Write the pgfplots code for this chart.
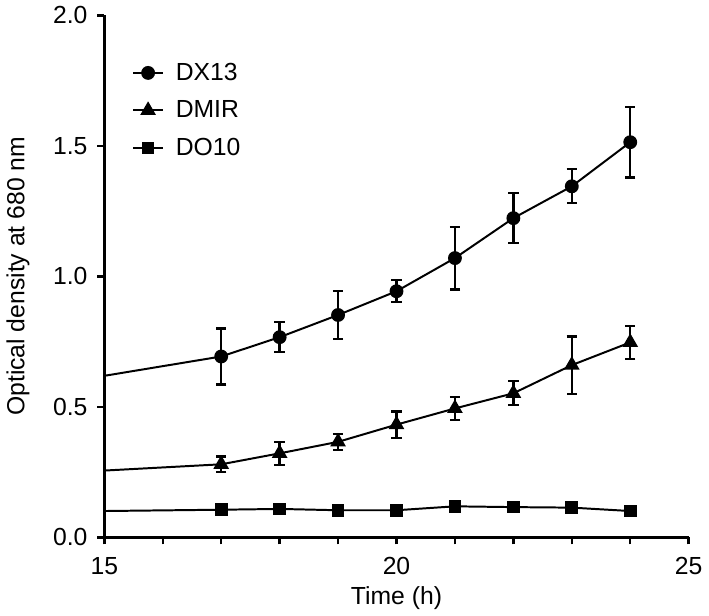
\documentclass[border=0pt]{standalone}
\usepackage{pgfplots}
\pgfplotsset{compat=1.18}
\usepackage{pgfplotstable}
\usepackage{fontspec}
\setmainfont{Liberation Sans}

\pgfplotstableread{
x y e
17 0.693 0.107
18 0.767 0.058
19 0.852 0.092
20 0.943 0.042
21 1.070 0.120
22 1.223 0.095
23 1.345 0.065
24 1.514 0.135
}\dxA
\pgfplotstableread{
x y e
17 0.280 0.030
18 0.322 0.044
19 0.366 0.030
20 0.432 0.050
21 0.494 0.045
22 0.552 0.046
23 0.660 0.110
24 0.747 0.063
}\dmir
\pgfplotstableread{
x y
17 0.106
18 0.109
19 0.104
20 0.104
21 0.119
22 0.116
23 0.114
24 0.101
}\doten

\begin{document}
\begin{tikzpicture}
\begin{axis}[
  scale only axis, width=295.5pt, height=264pt,
  xmin=15, xmax=25, ymin=0, ymax=2,
  axis x line*=bottom, axis y line*=left,
  axis line style={line width=1.3pt},
  xtick={15,...,25}, xticklabels={15,,,,,20,,,,,25},
  ytick={0,0.5,...,2},
  yticklabel style={/pgf/number format/.cd, fixed, fixed zerofill, precision=1},
  tick align=outside, major tick length=3.5pt,
  tick style={line width=1.2pt, black},
  /pgf/number format/assume math mode=true,
  font=\fontsize{12.5}{14.5}\selectfont,
  xticklabel shift=3pt, yticklabel shift=1.5pt,
  xlabel={Time (h)}, ylabel={Optical density at 680 nm},
  ylabel shift=5pt, xlabel shift=-1pt,
  legend style={draw=none, fill=none, at={(0.037,0.925)}, anchor=north west,
    font=\fontsize{12.5}{14.5}\selectfont, row sep=4.8pt},
  legend cell align=left,
  legend image code/.code={%
    \draw[mark repeat=2,mark phase=2] plot coordinates {(0pt,0pt) (7.5pt,0pt) (15pt,0pt)};
    \path (19pt,0pt);},
  every axis plot/.append style={line width=1pt, black},
]
\addplot[black, line width=1pt, forget plot] coordinates {(15,0.619) (17,0.693)};
\addplot[black, line width=1pt, forget plot] coordinates {(15,0.256) (17,0.280)};
\addplot[black, line width=1pt, forget plot] coordinates {(15,0.101) (17,0.106)};

\addplot[black, line width=1pt, mark=*, mark size=3pt, mark options={solid, fill=black},
  error bars/.cd, y dir=both, y explicit,
  error bar style={line width=1.15pt, black},
  error mark options={rotate=90, mark size=2.6pt, line width=1.15pt, black}]
  table[x=x, y=y, y error=e]{\dxA};
\addlegendentry{DX13}
\addplot[black, line width=1pt, mark=triangle*, mark size=3.6pt, mark options={solid, fill=black},
  error bars/.cd, y dir=both, y explicit,
  error bar style={line width=1.15pt, black},
  error mark options={rotate=90, mark size=2.6pt, line width=1.15pt, black}]
  table[x=x, y=y, y error=e]{\dmir};
\addlegendentry{DMIR}
\addplot[black, line width=1pt, mark=square*, mark size=2.7pt, mark options={solid, fill=black}]
  table[x=x, y=y]{\doten};
\addlegendentry{DO10}
\end{axis}
\end{tikzpicture}
\end{document}
